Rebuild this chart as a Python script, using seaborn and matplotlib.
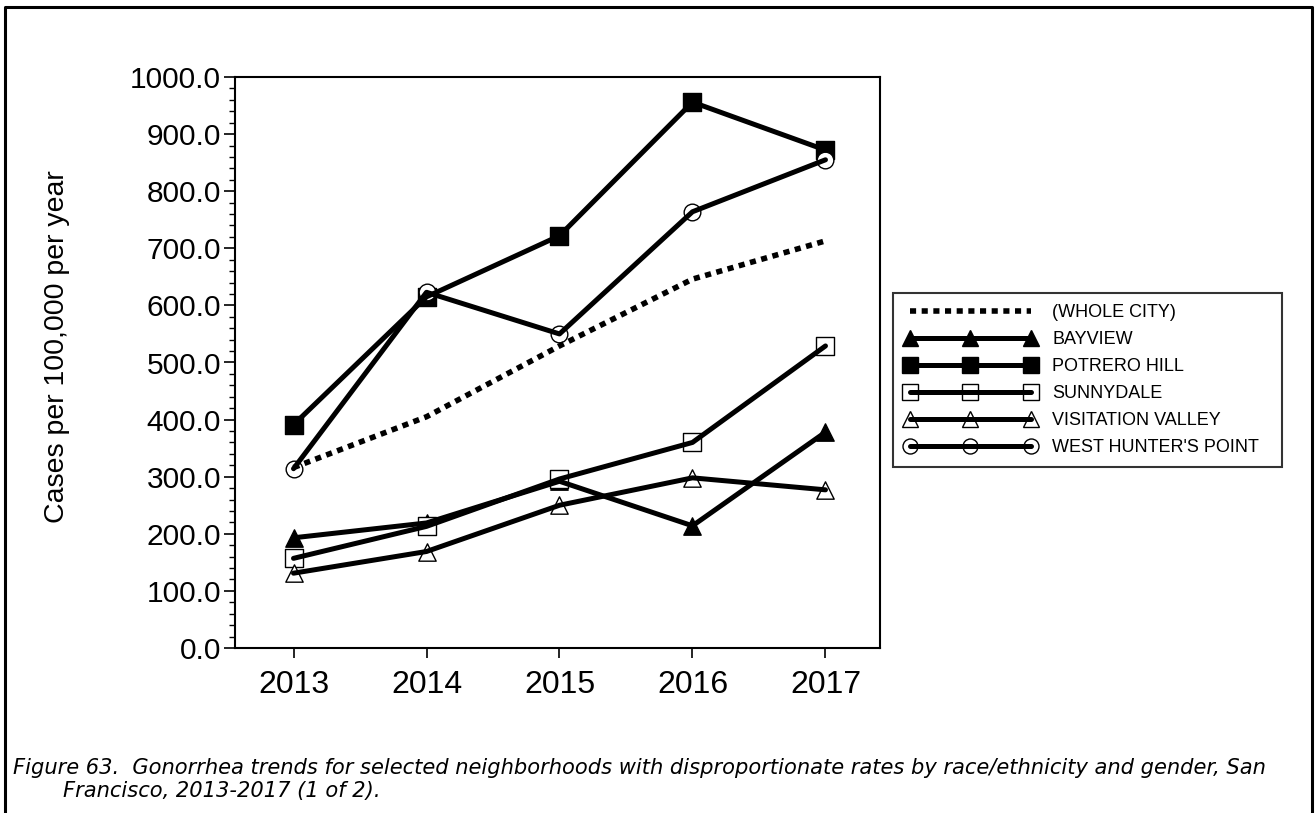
import matplotlib
matplotlib.use("Agg")
import matplotlib.pyplot as plt
from matplotlib.lines import Line2D
from matplotlib.legend_handler import HandlerTuple
from matplotlib.ticker import MultipleLocator, FormatStrFormatter
import seaborn as sns
import pandas as pd

years = [2013, 2014, 2015, 2016, 2017]
whole_city = [316, 405, 529, 646, 713]
bayview = [193, 219, 292, 214, 378]
potrero_hill = [391, 615, 722, 956, 872]
sunnydale = [157, 213, 296, 360, 529]
visitation_valley = [131, 169, 250, 298, 277]
west_hunters_point = [314, 623, 550, 764, 855]

labels = ["(WHOLE CITY)", "BAYVIEW", "POTRERO HILL", "SUNNYDALE",
          "VISITATION VALLEY", "WEST HUNTER'S POINT"]
yticks = [0, 100, 200, 300, 400, 500, 600, 700, 800, 900, 1000]
ylabel = "Cases per 100,000 per year"
caption1 = "Figure 63.  Gonorrhea trends for selected neighborhoods with disproportionate rates by race/ethnicity and gender, San"
caption2 = "Francisco, 2013-2017 (1 of 2)."

sns.set_theme(style="white")
plt.rcParams["font.family"] = ["Liberation Sans", "DejaVu Sans"]
for k in ["text.color", "axes.labelcolor", "xtick.color", "ytick.color", "axes.edgecolor"]:
    plt.rcParams[k] = "black"

W, H = 1315, 813
fig = plt.figure(figsize=(W / 100, H / 100), dpi=100)
ax = fig.add_axes([235 / W, 1 - 648 / H, (880 - 235) / W, (648 - 77) / H])

LW = 3.6
DOT = (0, (1.1, 1.0))
series = [
    (labels[1], bayview, "^", "black", 12.5),
    (labels[2], potrero_hill, "s", "black", 13),
    (labels[3], sunnydale, "s", "white", 13),
    (labels[4], visitation_valley, "^", "white", 12.5),
    (labels[5], west_hunters_point, "o", "white", 12),
]

# whole city dotted line
df_city = pd.DataFrame({"year": years, "value": whole_city})
sns.lineplot(data=df_city, x="year", y="value", ax=ax, color="black", lw=4,
             linestyle=DOT, zorder=3, legend=False)
ax.lines[-1].set_dash_capstyle("butt")

handles = [Line2D([], [], color="black", lw=4, linestyle=DOT, dash_capstyle="butt")]
for name, vals, mk, fc, ms in series:
    df = pd.DataFrame({"year": years, "value": vals})
    sns.scatterplot(data=df, x="year", y="value", ax=ax, marker=mk, s=ms ** 2,
                    facecolor=fc, edgecolor="black", linewidth=1.0, zorder=2,
                    legend=False)
    sns.lineplot(data=df, x="year", y="value", ax=ax, color="black", lw=LW,
                 zorder=4, legend=False)
    hm = Line2D([], [], linestyle="none", marker=mk, markersize=ms * 0.9,
                markerfacecolor=fc, markeredgecolor="black", markeredgewidth=1.0)
    hl = Line2D([], [], color="black", lw=LW)
    handles.append((hm, hl))

ax.set_xlim(2012.56, 2017.41)
ax.set_ylim(0, 1000)
ax.set_xticks(years)
ax.set_xticklabels([str(y) for y in years])
ax.set_yticks(yticks)
ax.yaxis.set_minor_locator(MultipleLocator(20))
ax.yaxis.set_major_formatter(FormatStrFormatter("%.1f"))
ax.tick_params(axis="y", which="major", direction="out", length=8, width=1.2,
               labelsize=21.5, left=True, pad=2, color="black")
ax.tick_params(axis="y", which="minor", direction="out", length=4, width=1.0,
               left=True, color="black")
ax.tick_params(axis="x", which="major", direction="out", length=7, width=1.2,
               labelsize=23, bottom=True, pad=9, color="black")
ax.set_xlabel("")
ax.set_ylabel(ylabel, fontsize=20.5)
ax.yaxis.set_label_coords((70 - 235) / 645, (648 - 347) / 571)
for sp in ax.spines.values():
    sp.set_color("black")
    sp.set_linewidth(1.5)

leg = fig.legend(handles, labels, loc="upper left",
                 bbox_to_anchor=(893 / W, 1 - 468 / H, (1282 - 893) / W, (468 - 293) / H),
                 mode="expand", borderaxespad=0, ncol=1,
                 handler_map={tuple: HandlerTuple(ndivide=1, pad=0)},
                 numpoints=3, fontsize=13, handlelength=7.3, handletextpad=0.9,
                 labelspacing=0.55, borderpad=0.62, fancybox=False, frameon=True)
leg.get_frame().set_edgecolor("black")
leg.get_frame().set_linewidth(1.5)
leg.get_frame().set_facecolor("white")

cap_font = ["DejaVu Sans", "Liberation Sans"]
fig.text(13 / W, 1 - 768 / H, caption1, fontsize=15.1, style="italic", va="center",
         ha="left", family=cap_font)
fig.text(63 / W, 1 - 791 / H, caption2, fontsize=15.1, style="italic", va="center",
         ha="left", family=cap_font)

# outer frame (left, top, right)
fig.add_artist(Line2D([5 / W, 5 / W, 1312 / W, 1312 / W], [0, 1 - 7 / H, 1 - 7 / H, 0],
                      transform=fig.transFigure, color="black", lw=2.2))

fig.savefig("out.png", dpi=100)
